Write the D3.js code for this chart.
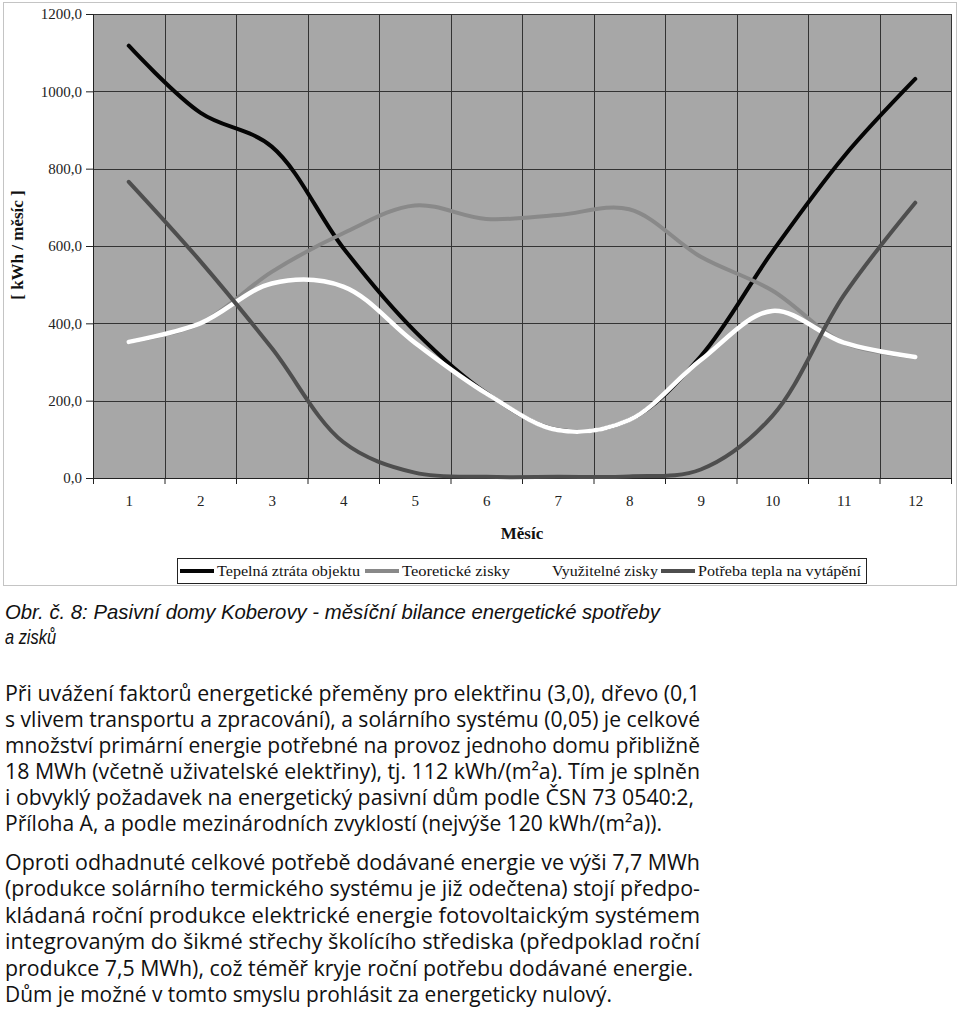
<!DOCTYPE html>
<html>
<head>
<meta charset="utf-8">
<script src="https://cdn.jsdelivr.net/npm/d3@7"></script>
<style>
  html, body { margin: 0; padding: 0; background: #fff; }
  svg { display: block; }
</style>
</head>
<body>
<svg id="chart" width="960" height="1011"></svg>
<script>
// ---- data ----
const months = [1, 2, 3, 4, 5, 6, 7, 8, 9, 10, 11, 12];
const tepelnaZtrata   = [1118, 945, 857, 595, 380, 220, 125, 150, 315, 585, 831, 1032];
const teoretickeZisky = [352, 400, 533, 633, 705, 670, 680, 695, 572, 485, 350, 313];
const vyuzitelneZisky = [352, 400, 503, 495, 350, 219, 124, 150, 305, 432, 350, 313];
const potrebaTepla    = [766, 561, 336, 93, 14, 3, 3, 4, 22, 160, 472, 712];
const yTicks = [0, 200, 400, 600, 800, 1000, 1200];
const seriesNames = ["Tepelná ztráta objektu", "Teoretické zisky", "Využitelné zisky", "Potřeba tepla na vytápění"];
const yTitle = "[ kWh / měsíc ]";
const xTitle = "Měsíc";
const captionLines = [
  "Obr. č. 8: Pasivní domy Koberovy - měsíční bilance energetické spotřeby",
  "a zisků"
];
const para1 = [
  "Při uvážení faktorů energetické přeměny pro elektřinu (3,0), dřevo (0,1",
  "s vlivem transportu a zpracování), a solárního systému (0,05) je celkové",
  "množství primární energie potřebné na provoz jednoho domu přibližně",
  "18 MWh (včetně uživatelské elektřiny), tj. 112 kWh/(m²a). Tím je splněn",
  "i obvyklý požadavek na energetický pasivní dům podle ČSN 73 0540:2,",
  "Příloha A, a podle mezinárodních zvyklostí (nejvýše 120 kWh/(m²a))."
];
const para2 = [
  "Oproti odhadnuté celkové potřebě dodávané energie ve výši 7,7 MWh",
  "(produkce solárního termického systému je již odečtena) stojí předpo-",
  "kládaná roční produkce elektrické energie fotovoltaickým systémem",
  "integrovaným do šikmé střechy školícího střediska (předpoklad roční",
  "produkce 7,5 MWh), což téměř kryje roční potřebu dodávané energie.",
  "Dům je možné v tomto smyslu prohlásit za energeticky nulový."
];

// ---- layout ----
const svg = d3.select("#chart");
const plot = { left: 93, right: 951, top: 14, bottom: 478 };
const serif = "Liberation Serif, Tinos, Times New Roman, DejaVu Serif, serif";
const sans = "Open Sans, Noto Sans, sans-serif";
const capFont = "Liberation Sans, Arimo, Arial, sans-serif";

const x = d3.scaleLinear().domain([0.5, 12.5]).range([plot.left, plot.right]);
const y = d3.scaleLinear().domain([0, 1200]).range([plot.bottom, plot.top]);

// outer chart frame
svg.append("rect").attr("x", 3.5).attr("y", 2.5).attr("width", 953).attr("height", 583)
  .attr("fill", "#fff").attr("stroke", "#c4c4c4").attr("stroke-width", 1);

// plot background
svg.append("rect").attr("x", plot.left).attr("y", plot.top)
  .attr("width", plot.right - plot.left).attr("height", plot.bottom - plot.top)
  .attr("fill", "#a7a7a7");

// grid lines
const grid = svg.append("g").attr("stroke", "#333").attr("stroke-width", 1);
grid.selectAll("line.h").data(yTicks).join("line")
  .attr("x1", plot.left).attr("x2", plot.right)
  .attr("y1", d => Math.round(y(d)) + 0.5).attr("y2", d => Math.round(y(d)) + 0.5);
const bounds = d3.range(0.5, 13, 1);
grid.selectAll("line.v").data(bounds).join("line")
  .attr("y1", plot.top).attr("y2", plot.bottom)
  .attr("x1", d => Math.round(x(d)) + 0.5).attr("x2", d => Math.round(x(d)) + 0.5);

// y axis
const fmt = d => d3.format(".1f")(d).replace(".", ",");
const yAxis = svg.append("g").attr("transform", `translate(${plot.left},0)`)
  .call(d3.axisLeft(y).tickValues(yTicks).tickSize(7).tickPadding(4).tickFormat(fmt))
  .attr("font-family", serif).attr("font-size", 15);
yAxis.select(".domain").attr("stroke", "#222");
yAxis.selectAll(".tick line").attr("stroke", "#222");
yAxis.selectAll(".tick text").attr("fill", "#222");

// x axis: boundary ticks + centred labels
const xTickAxis = svg.append("g").attr("transform", `translate(0,${plot.bottom})`)
  .call(d3.axisBottom(x).tickValues(bounds).tickSize(6).tickFormat(""));
xTickAxis.select(".domain").attr("stroke", "#222");
xTickAxis.selectAll(".tick line").attr("stroke", "#222");
const xLabAxis = svg.append("g").attr("transform", `translate(0,${plot.bottom})`)
  .call(d3.axisBottom(x).tickValues(months).tickSize(0).tickPadding(17).tickFormat(d => d))
  .attr("font-family", serif).attr("font-size", 15);
xLabAxis.select(".domain").remove();
xLabAxis.selectAll(".tick text").attr("fill", "#222");

// axis titles
svg.append("text").attr("x", (plot.left + plot.right) / 2).attr("y", 539)
  .attr("text-anchor", "middle").attr("font-family", serif).attr("font-weight", "bold")
  .attr("font-size", 17).attr("fill", "#111").text(xTitle);
svg.append("text").attr("transform", "translate(23,245) rotate(-90)")
  .attr("text-anchor", "middle").attr("font-family", serif).attr("font-weight", "bold")
  .attr("font-size", 17).attr("fill", "#111").text(yTitle);

// lines
const seriesData = [tepelnaZtrata, teoretickeZisky, vyuzitelneZisky, potrebaTepla];
const colors = ["#050505", "#898989", "#ffffff", "#4e4e4e"];
const widths = [4, 4, 4.5, 4];
const line = d3.line().x((d, i) => x(months[i])).y(d => y(d)).curve(d3.curveCatmullRom.alpha(0.5));
svg.append("g").selectAll("path").data(seriesData).join("path")
  .attr("d", d => line(d)).attr("fill", "none")
  .attr("stroke", (d, i) => colors[i]).attr("stroke-width", (d, i) => widths[i])
  .attr("stroke-linecap", "round").attr("stroke-linejoin", "round");

// legend
const lg = svg.append("g");
lg.append("rect").attr("x", 177.5).attr("y", 558.5).attr("width", 689).attr("height", 25)
  .attr("fill", "#fff").attr("stroke", "#222").attr("stroke-width", 1);
const legendX = [180, 365, 515, 661];
const legendW = [143, 108, 106, 163];
seriesNames.forEach((name, i) => {
  lg.append("line").attr("x1", legendX[i]).attr("x2", legendX[i] + 34)
    .attr("y1", 571).attr("y2", 571)
    .attr("stroke", colors[i]).attr("stroke-width", 4);
  lg.append("text").attr("x", legendX[i] + 37).attr("y", 576)
    .attr("font-family", serif).attr("font-size", 15).attr("fill", "#111")
    .attr("textLength", legendW[i]).attr("lengthAdjust", "spacingAndGlyphs")
    .text(name);
});

// caption
const capW = [655, 51];
captionLines.forEach((t, i) => {
  svg.append("text").attr("x", 5).attr("y", 619 + i * 25)
    .attr("font-family", capFont).attr("font-style", "italic").attr("font-size", 21)
    .attr("fill", "#111").attr("textLength", capW[i]).attr("lengthAdjust", "spacingAndGlyphs")
    .text(t);
});

// body text
const p1W = [695, 695, 695, 695, 689, 657];
const p2W = [695, 695, 695, 695, 688, 607];
para1.forEach((t, i) => {
  svg.append("text").attr("x", 5).attr("y", 701 + i * 26)
    .attr("font-family", sans).attr("font-size", 21).attr("fill", "#111")
    .attr("textLength", p1W[i]).attr("lengthAdjust", "spacingAndGlyphs").text(t);
});
para2.forEach((t, i) => {
  svg.append("text").attr("x", 5).attr("y", 870 + i * 26.4)
    .attr("font-family", sans).attr("font-size", 21).attr("fill", "#111")
    .attr("textLength", p2W[i]).attr("lengthAdjust", "spacingAndGlyphs").text(t);
});
</script>
</body>
</html>
